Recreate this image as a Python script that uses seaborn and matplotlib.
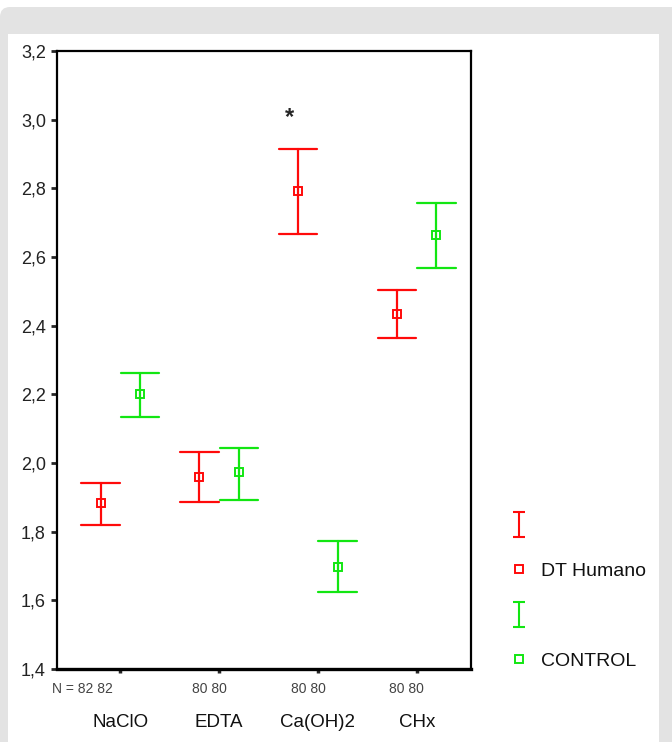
import matplotlib.pyplot as plt
import seaborn as sns
import numpy as np
import pandas as pd
from matplotlib.path import Path
from matplotlib.lines import Line2D
from matplotlib.patches import FancyBboxPatch, Rectangle
import matplotlib.transforms as mtransforms

# --- datos (media e IC 95%) ---
tratamientos = ["NaClO", "EDTA", "Ca(OH)2", "CHx"]
n_labels = ["N = 82 82", "80 80", "80 80", "80 80"]
grupos = ["DT Humano", "CONTROL"]

dt_media = [1.883, 1.959, 2.792, 2.434]
dt_inf = [1.819, 1.886, 2.667, 2.364]
dt_sup = [1.942, 2.032, 2.915, 2.504]

ctrl_media = [2.201, 1.974, 1.697, 2.664]
ctrl_inf = [2.134, 1.892, 1.624, 2.568]
ctrl_sup = [2.262, 2.044, 1.773, 2.757]

yticks = [1.4, 1.6, 1.8, 2.0, 2.2, 2.4, 2.6, 2.8, 3.0, 3.2]
ytick_labels = ["1,4", "1,6", "1,8", "2,0", "2,2", "2,4", "2,6", "2,8", "3,0", "3,2"]

RED = "#ff0a0a"
GREEN = "#12e612"

# tabla larga: inferior, media, superior por grupo -> mediana = media, rango = IC
rows = []
for g, med, lo, hi in [("DT Humano", dt_media, dt_inf, dt_sup),
                       ("CONTROL", ctrl_media, ctrl_inf, ctrl_sup)]:
    for t, m, l, h in zip(tratamientos, med, lo, hi):
        for v in (l, m, h):
            rows.append({"Tratamiento": t, "Grupo": g, "valor": v})
df = pd.DataFrame(rows)

sns.set_style("white")
plt.rcParams["font.family"] = ["Liberation Sans", "DejaVu Sans"]

fig = plt.figure(figsize=(6.72, 7.42), dpi=100)
fig.patch.set_facecolor("white")

# marco gris con panel blanco
fig.patches.append(FancyBboxPatch((0.0, -0.2), 6.9, 7.55, boxstyle="round,pad=0,rounding_size=0.1",
                                  transform=fig.dpi_scale_trans, facecolor="#e3e3e3",
                                  edgecolor="none", zorder=-10, figure=fig))
fig.patches.append(Rectangle((0.075, -0.1), 6.515, 7.185, transform=fig.dpi_scale_trans,
                             facecolor="white", edgecolor="none", zorder=-9, figure=fig))

ax = fig.add_axes([0.0848, 0.0984, 0.6161, 0.8329])
ax.set_facecolor("white")

sns.pointplot(data=df, x="Tratamiento", y="valor", hue="Grupo",
              order=tratamientos, hue_order=grupos, palette=[RED, GREEN],
              estimator="median", errorbar=lambda v: (v.min(), v.max()),
              dodge=0.4, capsize=0.39, linestyle="none", marker="s",
              markersize=6, markeredgewidth=1.4, markerfacecolor="white",
              err_kws={"linewidth": 1.6}, legend=False, ax=ax)

for ln in ax.lines:
    ln.set_markerfacecolor("white")

ax.set_xlim(-0.643, 3.55)
ax.set_ylim(1.4, 3.2)
ax.set_yticks(yticks)
ax.set_yticklabels(ytick_labels)
ax.set_xticks(range(len(tratamientos)))
ax.set_xticklabels([])
ax.set_xlabel("")
ax.set_ylabel("")

for side in ["left", "right", "top"]:
    ax.spines[side].set_visible(True)
    ax.spines[side].set_color("black")
    ax.spines[side].set_linewidth(1.6)
ax.spines["bottom"].set_color("black")
ax.spines["bottom"].set_linewidth(2.4)

ax.tick_params(axis="y", direction="out", length=4, width=2, labelsize=13,
               labelcolor="#222222", pad=4, left=True)
ax.tick_params(axis="x", direction="out", length=3, width=2.5, bottom=True)

trans = mtransforms.blended_transform_factory(ax.transData, ax.transAxes)
for i, (cat, nl) in enumerate(zip(tratamientos, n_labels)):
    if i == 0:
        ax.text(i - 0.08, -0.033, nl, transform=trans, ha="right", va="center",
                fontsize=10, color="#444444")
    else:
        ax.text(i - 0.1, -0.033, nl, transform=trans, ha="center", va="center",
                fontsize=10, color="#444444")
    ax.text(i, -0.086, cat, transform=trans, ha="center", va="center",
            fontsize=13.5, color="#111111")

# asterisco de significancia
ax.text(1.71, 3.005, "*", ha="center", va="center", fontsize=17, fontweight="bold")

# leyenda estilo SPSS
ibar = Path([(-0.5, 1), (0.5, 1), (0, 1), (0, -1), (-0.5, -1), (0.5, -1)],
            [Path.MOVETO, Path.LINETO, Path.MOVETO, Path.LINETO, Path.MOVETO, Path.LINETO])
handles = [
    Line2D([], [], linestyle="none", marker=ibar, markersize=18, markeredgewidth=1.5,
           color=RED, fillstyle="none"),
    Line2D([], [], linestyle="none", marker="s", markersize=6, markeredgewidth=1.4,
           color=RED, markerfacecolor="white"),
    Line2D([], [], linestyle="none", marker=ibar, markersize=18, markeredgewidth=1.5,
           color=GREEN, fillstyle="none"),
    Line2D([], [], linestyle="none", marker="s", markersize=6, markeredgewidth=1.4,
           color=GREEN, markerfacecolor="white"),
]
fig.legend(handles, ["", "DT Humano", "", "CONTROL"], loc="upper left",
           bbox_to_anchor=(492 / 672, 1 - 500 / 742), frameon=False, fontsize=14,
           labelspacing=1.4, handlelength=1.0, handletextpad=0.6, labelcolor="#111111")

fig.savefig("out.png", dpi=100)
